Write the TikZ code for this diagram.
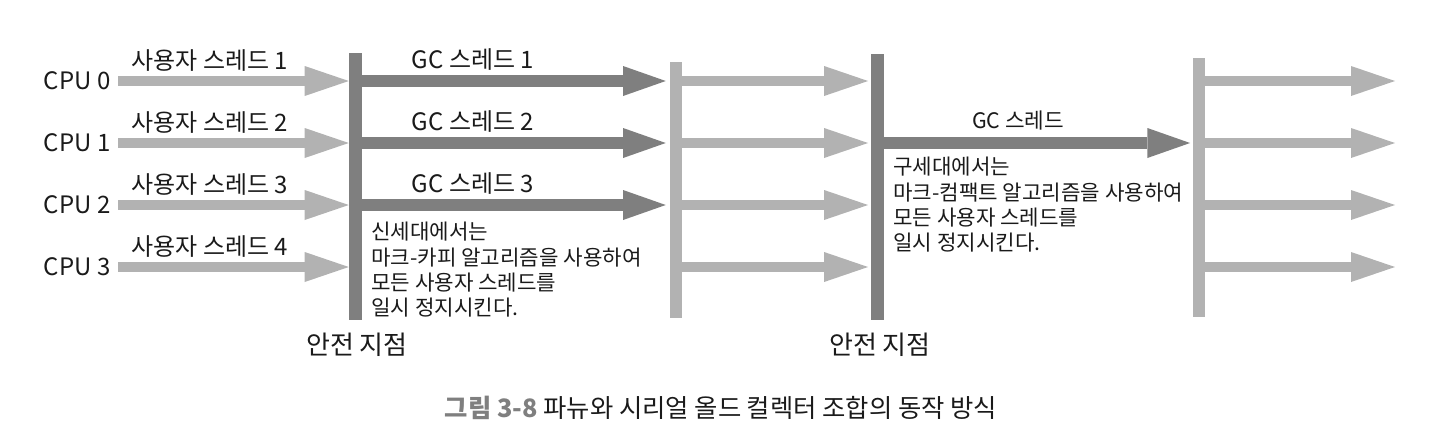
\documentclass[tikz,border=0pt]{standalone}
\usepackage{fontspec}
\setmainfont{Noto Sans CJK KR}
\usetikzlibrary{arrows.meta,calc}
\definecolor{lightg}{HTML}{B2B2B2}
\definecolor{darkg}{HTML}{7F7F7F}
\definecolor{txt}{HTML}{1A1A1A}
\tikzset{
  lbl/.style={font=\fontsize{18}{22}\selectfont, text=txt, inner sep=0pt},
  body/.style={font=\fontsize{15.9}{18.9}\selectfont, text=txt, align=left, anchor=north west, inner sep=0pt},
  bar/.style={inner sep=0pt, draw=none, rectangle},
  larrow/.style={draw=lightg, line width=7.5pt, -{Triangle[length=33pt,width=22.5pt,line width=0pt]}},
  darrow/.style={draw=darkg, line width=9pt, -{Triangle[length=32pt,width=22.5pt,line width=0pt]}},
}
\begin{document}
\begin{tikzpicture}[x=0.75pt,y=-0.75pt]
\useasboundingbox (0,0) rectangle (1446,436);
% bars
\node[bar, fill=darkg, minimum width=9.75pt, minimum height=200.25pt] (b1) at (355.5,186.5) {};
\node[bar, fill=lightg, minimum width=9pt, minimum height=192pt] (b2) at (676,190) {};
\node[bar, fill=darkg, minimum width=9.75pt, minimum height=199.5pt] (b3) at (877.5,187) {};
\node[bar, fill=lightg, minimum width=9pt, minimum height=194.25pt] (b4) at (1199,187.5) {};
% row start/end coordinates
\foreach \i/\r in {0/81,1/143,2/205,3/267}{
  \coordinate (s\i) at (118,\r);
  \coordinate (e\i) at (1395,\r);
}
% CPU labels
\foreach \i in {0,1,2,3}{
  \node[lbl, anchor=east] (cpu\i) at ([xshift=-5.5pt]s\i) {CPU \i};
}
% user thread arrows and labels
\foreach \i/\n in {0/1,1/2,2/3,3/4}{
  \draw[larrow] (s\i) -- (b1.west |- s\i);
  \node[lbl] (ut\i) at ([yshift=15.5pt]210,0 |- s\i) {사용자 스레드 \n};
}
% GC threads (young)
\foreach \i/\n in {0/1,1/2,2/3}{
  \draw[darrow] (b1.east |- s\i) -- ([xshift=-3pt]b2.west |- s\i);
  \node[lbl] (gc\i) at ([yshift=15.75pt]473,0 |- s\i) {GC 스레드 \n};
}
% resume arrows bar2 -> bar3
\foreach \i in {0,1,2,3}{
  \draw[larrow] (b2.east |- s\i) -- ([xshift=-2pt]b3.west |- s\i);
}
% GC thread (old)
\draw[darrow] (b3.east |- s1) -- ([xshift=-2pt]b4.west |- s1);
\node[lbl, font=\fontsize{16}{20}\selectfont] (gcold) at (1018,121) {GC 스레드};
% final arrows
\foreach \i in {0,1,2,3}{
  \draw[larrow] (b4.east |- s\i) -- (e\i);
}
% notes
\node[body] (young) at (371,222) {신세대에서는\\마크-카피 알고리즘을 사용하여\\모든 사용자 스레드를\\일시 정지시킨다.};
\node[body] (old) at (893,157) {구세대에서는\\마크-컴팩트 알고리즘을 사용하여\\모든 사용자 스레드를\\일시 정지시킨다.};
% safepoints
\node[lbl, font=\fontsize{19.5}{23}\selectfont] (sp1) at (357,345) {안전 지점};
\node[lbl, font=\fontsize{19.5}{23}\selectfont] (sp2) at (880,345) {안전 지점};
% caption
\node[lbl, font=\fontsize{19}{23}\selectfont] (cap) at (721,408) {{\bfseries\color{darkg}그림 3-8} 파뉴와 시리얼 올드 컬렉터 조합의 동작 방식};
\end{tikzpicture}
\end{document}
